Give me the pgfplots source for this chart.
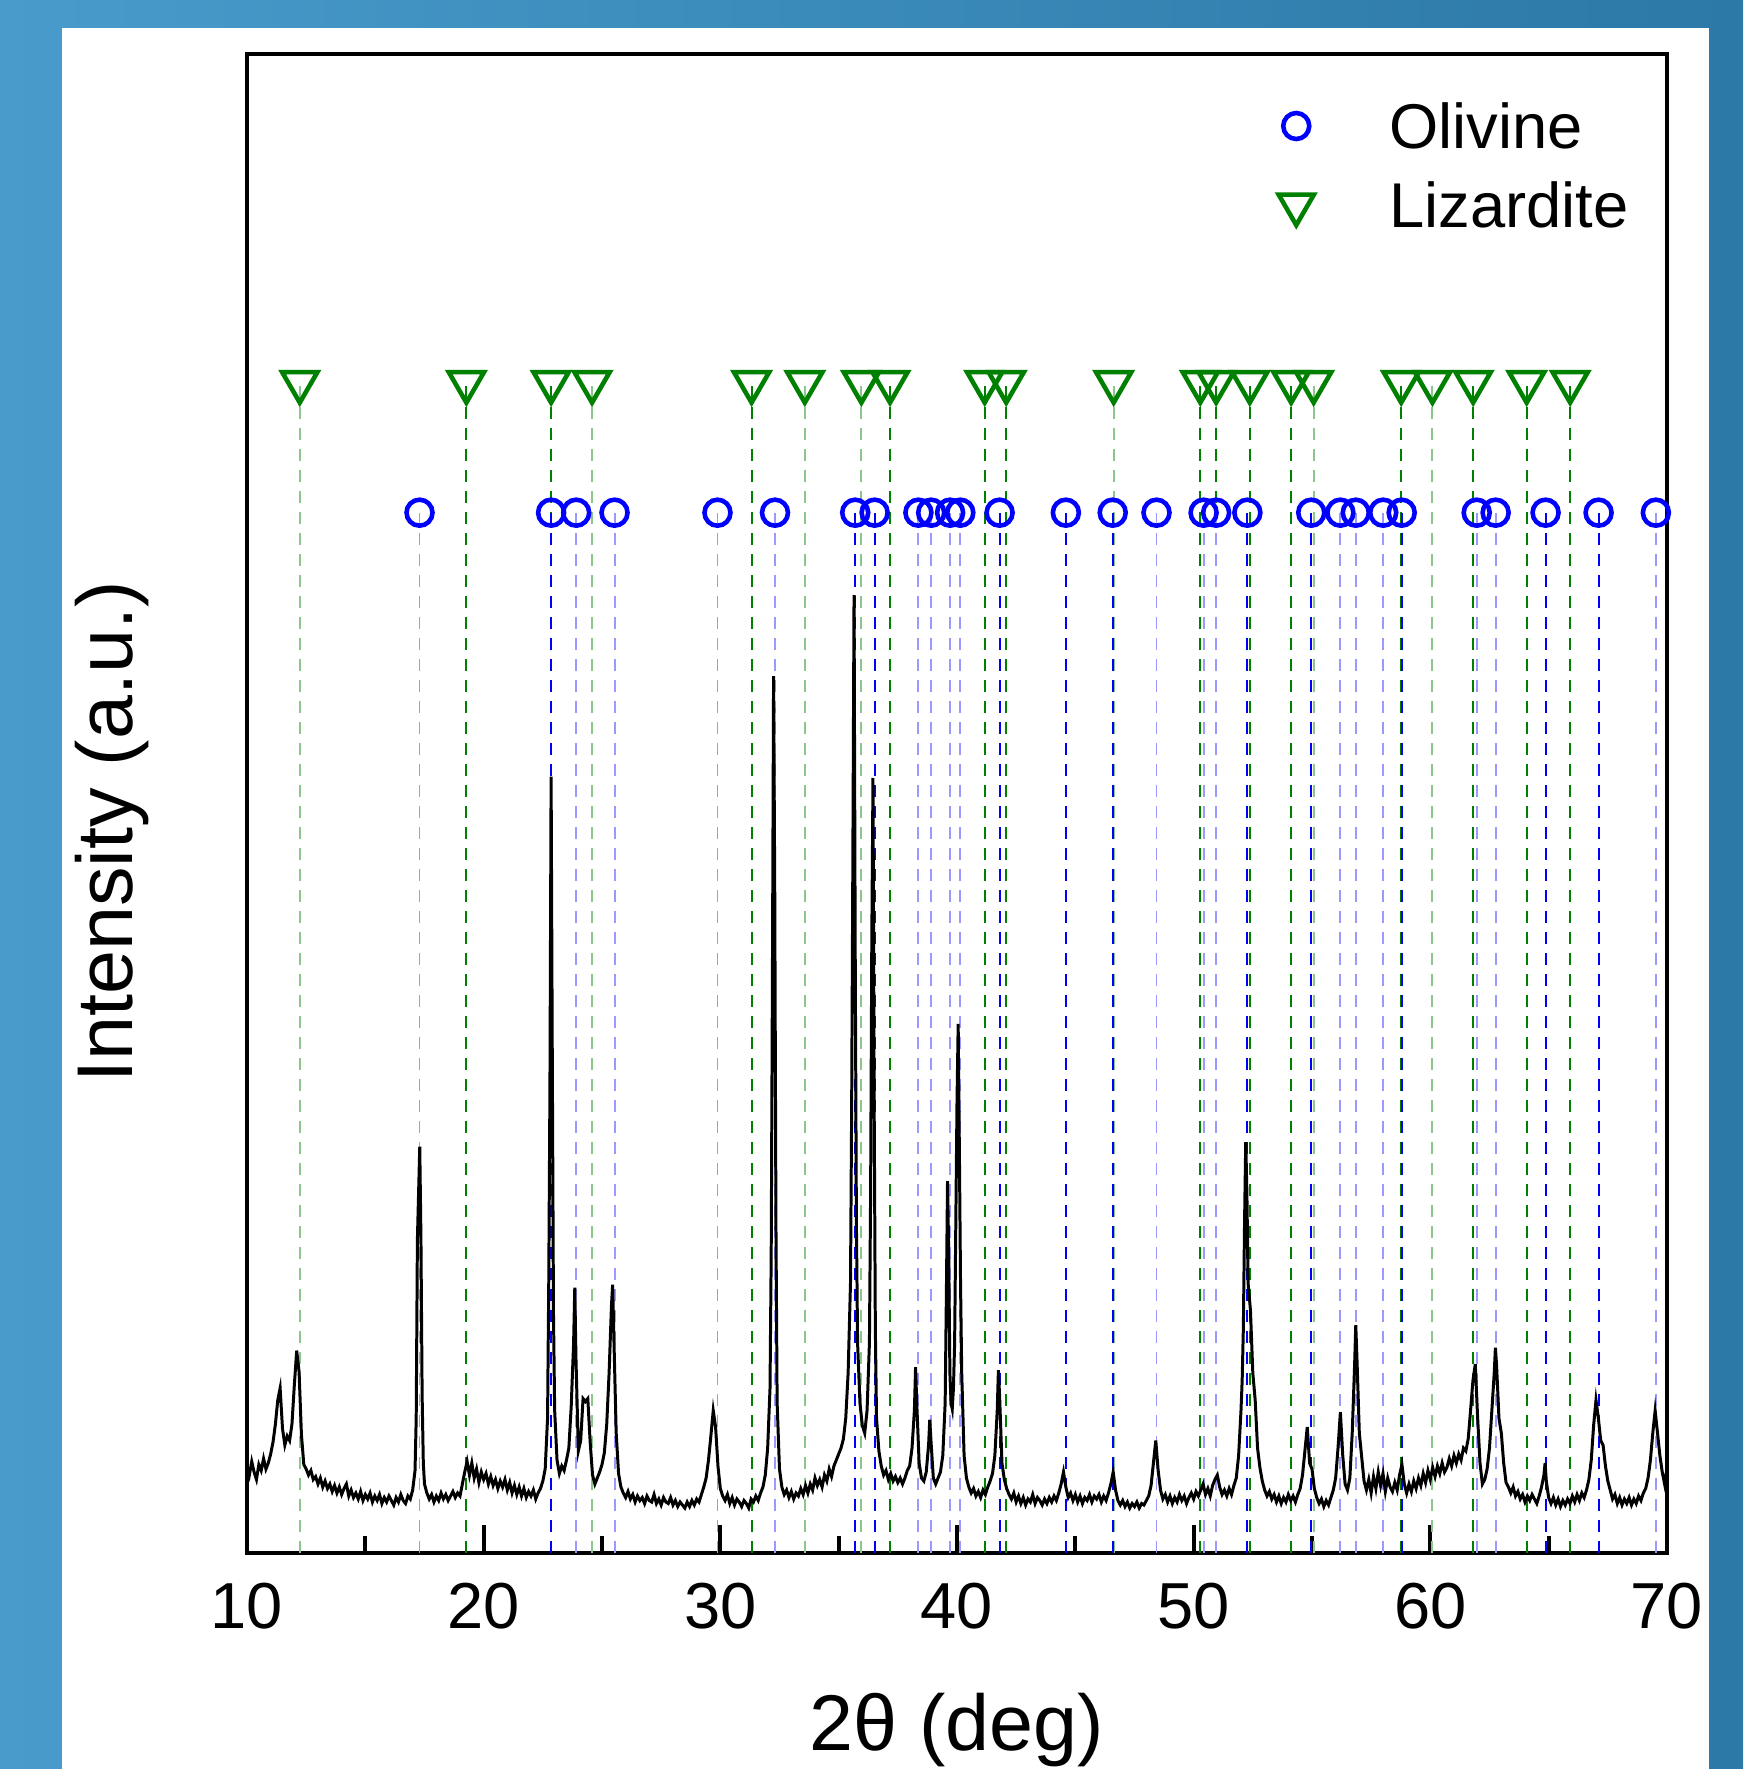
\documentclass[border=0pt]{standalone}
\usepackage{fontspec}
\setmainfont{Liberation Sans}
\usepackage{pgfplots}
\pgfplotsset{compat=1.18}
\definecolor{bgL}{RGB}{72,155,203}
\definecolor{bgR}{RGB}{44,120,166}
\definecolor{olv}{RGB}{0,0,255}
\definecolor{liz}{RGB}{0,128,0}

\begin{document}
\begin{tikzpicture}
% blue slide background and white panel
\shade[left color=bgL,right color=bgR] (0,0) rectangle (174.3mm,176.9mm);
\fill[white] (6.2mm,0) rectangle (170.9mm,174.1mm);
\begin{axis}[at={(24.7mm,21.6mm)}, anchor=south west, scale only axis,
  width=142mm, height=149.9mm,
  xmin=10, xmax=70, ymin=0, ymax=100,
  xtick={10,20,...,70}, minor x tick num=1, ytick=\empty,
  xtick pos=bottom, tick align=inside,
  major tick length=2.8mm, minor tick length=1.7mm,
  tick style={line width=1.1pt, black},
  axis line style={line width=1.3pt},
  /pgf/number format/assume math mode=true,
  tick label style={font=\fontsize{18.5}{20}\selectfont},
  xticklabel style={yshift=-1.8mm},
  xlabel={2θ (deg)}, ylabel={Intensity (a.u.)},
  label style={font=\fontsize{22.5}{26}\selectfont},
  x label style={at={(axis description cs:0.5,-0.132)}, anchor=base},
  y label style={at={(axis description cs:-0.0803,0.481)}, anchor=base, rotate=0},
  legend style={at={(axis description cs:0.726,0.970)}, anchor=north west,
    draw=none, fill=none, inner sep=0pt, font=\fontsize{18}{20}\selectfont,
    row sep=2.6mm, nodes={inner sep=1pt, text height=13pt, text depth=0pt},
    /tikz/every odd column/.append style={column sep=7.2mm}},
  legend image code/.code={\draw[#1] plot coordinates {(0cm,0cm)};},
  legend cell align=left,
]
% reference lines, lizardite (bright / pale)
\addplot[forget plot, ycomb, liz, line width=0.55pt, dash pattern=on 1.2mm off 0.9mm] coordinates {
(19.27,78.1)(22.85,78.1)(31.32,78.1)(37.17,78.1)(41.17,78.1)(42.08,78.1)(50.28,78.1)(50.95,78.1)
(52.37,78.1)(54.12,78.1)(58.77,78.1)(61.81,78.1)(64.07,78.1)(65.91,78.1)};
\addplot[forget plot, ycomb, liz!45, line width=0.55pt, dash pattern=on 1.2mm off 0.9mm] coordinates {
(12.23,78.1)(24.58,78.1)(33.57,78.1)(35.96,78.1)(46.62,78.1)(55.07,78.1)(60.09,78.1)};
% reference lines, olivine (bright / pale)
\addplot[forget plot, ycomb, olv, line width=0.55pt, dash pattern=on 1.2mm off 0.9mm] coordinates {
(22.85,69.4)(35.70,69.4)(36.52,69.4)(41.80,69.4)(44.60,69.4)(46.58,69.4)(52.27,69.4)(54.97,69.4)
(58.79,69.4)(64.87,69.4)(67.11,69.4)};
\addplot[forget plot, ycomb, olv!40, line width=0.55pt, dash pattern=on 1.2mm off 0.9mm] coordinates {
(17.29,69.4)(23.91,69.4)(25.53,69.4)(29.88,69.4)(32.31,69.4)(38.37,69.4)(38.91,69.4)(39.71,69.4)
(40.14,69.4)(48.43,69.4)(50.42,69.4)(50.95,69.4)(56.20,69.4)(56.85,69.4)(58.01,69.4)(61.96,69.4)
(62.76,69.4)(69.53,69.4)};
% measured pattern
\addplot[forget plot, black, line width=0.85pt] coordinates {
(10.0,5.8)(10.1,5.2)(10.2,6.1)(10.3,5.4)(10.4,4.9)(10.5,5.9)(10.6,5.5)(10.7,6.3)(10.8,5.6)(10.9,6.0)
(11.0,6.6)(11.1,7.4)(11.2,8.6)(11.3,10.2)(11.4,11.0)(11.5,8.3)(11.6,7.2)(11.7,7.8)(11.8,7.5)(11.9,8.6)
(12.0,11.2)(12.1,13.5)(12.2,12.1)(12.3,7.9)(12.4,5.9)(12.5,5.6)(12.6,5.2)(12.7,5.5)(12.8,4.9)(12.9,5.1)
(13.0,4.6)(13.1,5.0)(13.2,4.4)(13.3,4.8)(13.4,4.3)(13.5,4.6)(13.6,4.1)(13.7,4.5)(13.8,4.0)(13.9,4.4)
(14.0,3.9)(14.1,4.3)(14.2,4.6)(14.3,3.8)(14.4,4.2)(14.5,3.7)(14.6,4.0)(14.7,3.6)(14.8,4.1)(14.9,3.5)
(15.0,3.9)(15.1,3.6)(15.2,4.0)(15.3,3.4)(15.4,3.8)(15.5,3.5)(15.6,3.9)(15.7,3.3)(15.8,3.7)(15.9,3.4)
(16.0,3.8)(16.1,3.5)(16.2,3.2)(16.3,3.7)(16.4,3.4)(16.5,3.9)(16.6,3.5)(16.7,3.3)(16.8,3.8)(16.9,3.6)
(17.0,4.2)(17.1,5.5)(17.15,9.0)(17.2,20.9)(17.25,24.0)(17.3,27.1)(17.35,21.0)(17.4,10.5)(17.45,6.0)(17.5,4.6)
(17.6,4.0)(17.7,3.6)(17.8,3.9)(17.9,3.4)(18.0,3.8)(18.1,3.5)(18.2,4.0)(18.3,3.6)(18.4,3.9)(18.5,3.5)
(18.6,3.8)(18.7,4.1)(18.8,3.7)(18.9,4.0)(19.0,3.8)(19.1,4.6)(19.2,5.4)(19.3,6.1)(19.4,5.2)(19.5,6.0)
(19.6,5.0)(19.7,5.6)(19.8,4.7)(19.9,5.4)(20.0,4.9)(20.1,5.3)(20.2,4.6)(20.3,5.1)(20.4,4.5)(20.5,4.9)
(20.6,4.3)(20.7,4.8)(20.8,4.4)(20.9,4.9)(21.0,4.2)(21.1,4.7)(21.2,4.0)(21.3,4.5)(21.4,3.9)(21.5,4.4)
(21.6,3.8)(21.7,4.3)(21.8,3.7)(21.9,4.1)(22.0,3.8)(22.1,4.2)(22.2,3.6)(22.3,4.0)(22.4,4.3)(22.5,4.8)
(22.6,5.6)(22.7,9.0)(22.75,18.0)(22.8,31.0)(22.85,51.8)(22.9,33.0)(22.95,16.0)(23.0,9.5)(23.1,6.2)(23.2,5.3)
(23.3,5.8)(23.4,5.5)(23.5,6.2)(23.6,7.0)(23.7,9.8)(23.8,14.0)(23.85,17.7)(23.9,13.0)(24.0,6.8)(24.1,7.5)
(24.2,10.3)(24.3,10.1)(24.4,10.3)(24.5,7.4)(24.6,5.2)(24.7,4.6)(24.8,5.0)(24.9,5.4)(25.0,5.9)(25.1,6.7)
(25.2,8.6)(25.3,12.0)(25.4,16.5)(25.45,17.9)(25.5,14.5)(25.6,8.0)(25.7,5.3)(25.8,4.4)(25.9,4.0)(26.0,3.7)
(26.1,4.1)(26.2,3.6)(26.3,3.9)(26.4,3.4)(26.5,3.8)(26.6,3.5)(26.7,3.7)(26.8,3.3)(26.9,3.8)(27.0,3.5)
(27.1,3.4)(27.2,3.9)(27.3,3.3)(27.4,3.6)(27.5,3.2)(27.6,3.7)(27.7,3.4)(27.8,3.3)(27.9,3.7)(28.0,3.2)
(28.1,3.5)(28.2,3.1)(28.3,3.4)(28.4,3.2)(28.5,3.0)(28.6,3.4)(28.7,3.1)(28.8,3.5)(28.9,3.2)(29.0,3.6)
(29.1,3.4)(29.2,3.9)(29.3,4.4)(29.4,5.0)(29.5,6.2)(29.6,7.8)(29.7,9.5)(29.8,8.4)(29.9,5.8)(30.0,4.3)
(30.1,3.8)(30.2,3.5)(30.3,3.9)(30.4,3.3)(30.5,3.7)(30.6,3.2)(30.7,3.6)(30.8,3.4)(30.9,3.1)(31.0,3.5)
(31.1,3.3)(31.2,3.0)(31.3,3.6)(31.4,3.4)(31.5,3.8)(31.6,3.5)(31.7,4.0)(31.8,4.4)(31.9,5.2)(32.0,7.0)
(32.1,11.0)(32.15,20.0)(32.2,38.0)(32.25,58.5)(32.3,44.0)(32.35,22.0)(32.4,10.0)(32.5,5.6)(32.6,4.4)(32.7,3.9)
(32.8,4.2)(32.9,3.7)(33.0,4.1)(33.1,3.6)(33.2,4.0)(33.3,3.8)(33.4,4.3)(33.5,3.9)(33.6,4.5)(33.7,4.0)
(33.8,4.6)(33.9,4.2)(34.0,5.0)(34.1,4.5)(34.2,4.9)(34.3,4.4)(34.4,5.2)(34.5,4.8)(34.6,5.6)(34.7,5.1)
(34.8,5.8)(34.9,6.2)(35.0,6.6)(35.1,7.0)(35.2,7.6)(35.3,9.0)(35.4,12.0)(35.5,18.0)(35.55,30.0)(35.6,46.4)
(35.65,63.9)(35.7,40.0)(35.75,22.0)(35.8,14.0)(35.9,10.0)(36.0,8.5)(36.1,8.0)(36.2,9.5)(36.3,14.0)(36.35,24.0)
(36.4,40.8)(36.45,51.7)(36.5,30.0)(36.55,15.0)(36.6,9.0)(36.7,6.8)(36.8,5.8)(36.9,5.2)(37.0,5.5)(37.1,4.9)
(37.2,5.3)(37.3,4.8)(37.4,5.1)(37.5,4.7)(37.6,5.0)(37.7,4.6)(37.8,5.0)(37.9,5.5)(38.0,5.8)(38.1,7.0)
(38.2,9.5)(38.25,12.4)(38.3,10.0)(38.4,6.0)(38.5,5.0)(38.6,4.8)(38.7,5.4)(38.8,7.2)(38.85,8.9)(38.9,7.5)
(39.0,5.0)(39.1,4.6)(39.2,5.0)(39.3,5.4)(39.4,6.5)(39.5,10.0)(39.55,17.0)(39.6,24.8)(39.65,20.0)(39.7,12.0)
(39.75,10.0)(39.8,9.6)(39.85,11.0)(39.9,14.0)(39.95,22.0)(40.0,30.0)(40.05,35.3)(40.1,27.0)(40.15,18.0)(40.2,12.0)
(40.3,6.5)(40.4,5.0)(40.5,4.4)(40.6,4.0)(40.7,4.3)(40.8,3.8)(40.9,4.1)(41.0,3.7)(41.1,4.2)(41.2,3.9)
(41.3,4.4)(41.4,4.8)(41.5,5.3)(41.6,6.5)(41.7,9.5)(41.75,12.2)(41.8,10.5)(41.9,6.0)(42.0,4.9)(42.1,4.3)
(42.2,3.9)(42.3,3.6)(42.4,4.0)(42.5,3.4)(42.6,3.8)(42.7,3.3)(42.8,3.7)(42.9,3.2)(43.0,3.6)(43.1,3.4)
(43.2,3.9)(43.3,3.3)(43.4,3.7)(43.5,3.5)(43.6,3.2)(43.7,3.6)(43.8,3.3)(43.9,3.7)(44.0,3.4)(44.1,3.8)
(44.2,3.5)(44.3,4.0)(44.4,4.6)(44.5,5.4)(44.6,4.4)(44.7,3.7)(44.8,4.0)(44.9,3.5)(45.0,3.9)(45.1,3.4)
(45.2,3.8)(45.3,3.3)(45.4,3.7)(45.5,3.5)(45.6,3.9)(45.7,3.4)(45.8,3.8)(45.9,3.6)(46.0,3.9)(46.1,3.4)
(46.2,3.8)(46.3,3.5)(46.4,4.0)(46.5,4.6)(46.6,5.4)(46.7,4.2)(46.8,3.5)(46.9,3.2)(47.0,3.5)(47.1,3.1)
(47.2,3.4)(47.3,3.0)(47.4,3.3)(47.5,3.1)(47.6,3.4)(47.7,3.0)(47.8,3.3)(47.9,3.2)(48.0,3.5)(48.1,3.8)
(48.2,4.5)(48.3,6.0)(48.4,7.5)(48.5,5.5)(48.6,4.2)(48.7,3.6)(48.8,3.9)(48.9,3.4)(49.0,3.8)(49.1,3.3)
(49.2,3.7)(49.3,3.4)(49.4,3.9)(49.5,3.5)(49.6,3.8)(49.7,3.3)(49.8,3.7)(49.9,4.0)(50.0,3.6)(50.1,4.1)
(50.2,3.8)(50.3,4.2)(50.4,4.6)(50.5,3.9)(50.6,4.3)(50.7,3.8)(50.8,4.5)(50.9,4.9)(51.0,5.2)(51.1,4.4)
(51.2,3.9)(51.3,4.2)(51.4,3.8)(51.5,4.3)(51.6,3.9)(51.7,4.5)(51.8,5.0)(51.9,6.5)(52.0,9.5)(52.05,11.5)
(52.1,15.0)(52.15,22.0)(52.2,27.4)(52.25,24.0)(52.3,18.0)(52.4,16.2)(52.5,12.0)(52.6,10.2)(52.7,7.0)(52.8,5.7)
(52.9,4.8)(53.0,4.2)(53.1,3.8)(53.2,4.1)(53.3,3.6)(53.4,3.9)(53.5,3.4)(53.6,3.8)(53.7,3.3)(53.8,3.7)
(53.9,3.4)(54.0,3.9)(54.1,3.5)(54.2,3.8)(54.3,3.4)(54.4,3.9)(54.5,4.3)(54.6,5.2)(54.7,6.8)(54.8,8.4)
(54.9,6.0)(55.0,5.6)(55.1,4.3)(55.2,3.7)(55.3,3.3)(55.4,3.6)(55.5,3.1)(55.6,3.5)(55.7,3.2)(55.8,3.7)
(55.9,4.2)(56.0,5.0)(56.1,7.0)(56.2,9.4)(56.3,6.5)(56.4,4.6)(56.5,4.2)(56.6,5.0)(56.7,8.0)(56.8,12.5)
(56.85,15.2)(56.9,13.0)(57.0,8.0)(57.1,6.4)(57.2,4.8)(57.3,4.2)(57.4,4.9)(57.5,4.0)(57.6,5.1)(57.7,4.3)
(57.8,5.4)(57.9,4.5)(58.0,5.3)(58.1,4.1)(58.2,5.0)(58.3,4.4)(58.4,4.1)(58.5,4.7)(58.6,4.2)(58.7,5.2)
(58.8,5.9)(58.9,4.6)(59.0,4.0)(59.1,4.6)(59.2,4.1)(59.3,4.8)(59.4,4.3)(59.5,5.0)(59.6,4.5)(59.7,5.3)
(59.8,4.7)(59.9,5.5)(60.0,4.9)(60.1,5.7)(60.2,5.1)(60.3,5.8)(60.4,5.3)(60.5,6.0)(60.6,5.4)(60.7,5.7)
(60.8,6.3)(60.9,5.8)(61.0,6.5)(61.1,6.0)(61.2,6.6)(61.3,6.2)(61.4,7.0)(61.5,6.8)(61.6,7.6)(61.7,9.5)
(61.8,11.5)(61.9,12.6)(62.0,9.0)(62.1,6.0)(62.2,4.6)(62.3,4.9)(62.4,5.6)(62.5,7.0)(62.6,9.5)(62.7,12.0)
(62.75,13.7)(62.8,12.5)(62.9,9.0)(63.0,8.0)(63.1,6.0)(63.2,4.7)(63.3,4.4)(63.4,4.0)(63.5,4.4)(63.6,3.8)
(63.7,4.1)(63.8,3.6)(63.9,3.9)(64.0,3.4)(64.1,3.8)(64.2,3.5)(64.3,3.9)(64.4,3.6)(64.5,3.3)(64.6,3.8)
(64.7,4.4)(64.8,5.2)(64.85,6.0)(64.9,4.8)(65.0,3.7)(65.1,3.3)(65.2,3.7)(65.3,3.2)(65.4,3.6)(65.5,3.1)
(65.6,3.5)(65.7,3.2)(65.8,3.6)(65.9,3.3)(66.0,3.8)(66.1,3.4)(66.2,3.9)(66.3,3.5)(66.4,4.0)(66.5,3.7)
(66.6,4.2)(66.7,4.9)(66.8,6.2)(66.9,8.5)(67.0,10.2)(67.1,9.0)(67.2,7.5)(67.3,7.2)(67.4,5.8)(67.5,4.8)
(67.6,4.2)(67.7,3.6)(67.8,3.9)(67.9,3.3)(68.0,3.7)(68.1,3.2)(68.2,3.6)(68.3,3.3)(68.4,3.7)(68.5,3.2)
(68.6,3.6)(68.7,3.3)(68.8,3.8)(68.9,3.5)(69.0,4.0)(69.1,4.3)(69.2,5.0)(69.3,6.2)(69.4,8.0)(69.5,9.5)
(69.6,8.0)(69.7,6.5)(69.8,5.4)(69.9,4.6)(70.0,5.6)};
% phase markers
\addplot[only marks, mark=o, olv, mark size=3.7pt, mark options={line width=1.3pt}] coordinates {
(17.29,69.4)(22.85,69.4)(23.91,69.4)(25.53,69.4)(29.88,69.4)(32.31,69.4)(35.70,69.4)(36.52,69.4)
(38.37,69.4)(38.91,69.4)(39.71,69.4)(40.14,69.4)(41.80,69.4)(44.60,69.4)(46.58,69.4)(48.43,69.4)
(50.42,69.4)(50.95,69.4)(52.27,69.4)(54.97,69.4)(56.20,69.4)(56.85,69.4)(58.01,69.4)(58.79,69.4)
(61.96,69.4)(62.76,69.4)(64.87,69.4)(67.11,69.4)(69.53,69.4)};
\addlegendentry{Olivine}
\addplot[only marks, mark=triangle, liz, mark size=5.8pt, mark options={rotate=180, line width=1.3pt}] coordinates {
(12.23,78.1)(19.27,78.1)(22.85,78.1)(24.58,78.1)(31.32,78.1)(33.57,78.1)(35.96,78.1)(37.17,78.1)
(41.17,78.1)(42.08,78.1)(46.62,78.1)(50.28,78.1)(50.95,78.1)(52.37,78.1)(54.12,78.1)(55.07,78.1)
(58.77,78.1)(60.09,78.1)(61.81,78.1)(64.07,78.1)(65.91,78.1)};
\addlegendentry{Lizardite}
\end{axis}
\pgfresetboundingbox
\useasboundingbox (0,0) rectangle (174.3mm,176.9mm);
\end{tikzpicture}
\end{document}
